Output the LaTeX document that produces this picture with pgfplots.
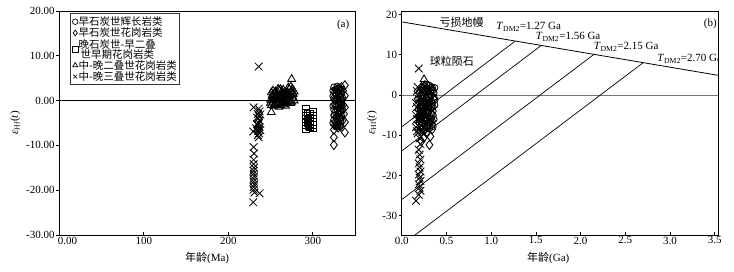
\documentclass[border=0pt]{standalone}
\usepackage{fontspec}
\setmainfont{Liberation Serif}
\newfontfamily\cjk{Noto Sans CJK SC}
\usepackage{pgfplots}
\pgfplotsset{compat=1.18}

\pgfplotstableread{
x y
325 3.0
327 2.5
329 3.2
331 2.8
333 2.2
326 1.8
328 1.2
330 1.9
332 1.0
334 1.5
325 0.5
327 0.0
329 0.6
331 -0.3
333 0.3
326 -0.8
328 -1.3
330 -0.9
332 -1.6
334 -1.0
325 -2.0
327 -2.5
329 -1.9
331 -2.8
333 -2.3
326 -3.2
328 -3.6
330 -3.0
332 -3.9
334 -3.4
325 -4.3
327 -4.8
329 -4.2
331 -5.0
333 -4.6
326 -5.5
328 -5.9
330 -5.4
324 -1.2
324 1.0
335 0.8
335 -2.0
324 2.2
326 0.2
328 2.6
330 0.3
332 2.4
334 -0.2
325 -3.3
327 -1.2
329 -3.5
331 -1.8
333 -3.8
335 -4.5
324 -5.0
329 -5.8
332 -5.6
327 -5.8
331 1.3
333 -0.8
}\circA

\pgfplotstableread{
x y
325 -6.5
325 -8.2
325 -9.9
328 -5.0
330 -6.0
332 -4.0
334 -2.5
336 -1.0
338 3.4
338 1.1
338 -1.5
338 -4.8
338 -7.1
336 2.2
334 3.0
330 2.6
327 1.5
335 0.2
337 -3.0
333 -5.8
}\diamA

\pgfplotstableread{
x y
292 -1.8
292 -2.6
292 -3.4
292 -4.1
292 -4.8
292 -5.5
292 -6.3
293.5 -3.0
293.5 -5.0
297 -3.0
297 -3.8
297 -4.5
297 -5.3
297 -6.0
300 -2.5
300 -3.3
300 -4.0
300 -4.7
300 -5.4
300 -6.2
295 -4.2
295 -5.8
}\squA

\pgfplotstableread{
x y
251 -2.6
275 4.8
250 0.2
252 1.2
254 0.5
256 -0.5
258 1.5
260 2.4
262 0.8
264 -0.3
266 1.0
268 0.3
270 1.8
272 2.6
274 1.2
276 0.5
278 2.0
251 -1.0
253 -0.3
255 1.8
257 0.2
259 -0.8
261 1.0
263 2.0
265 0.0
267 -0.5
269 1.2
271 0.6
273 -0.2
275 2.2
277 1.5
250 -0.5
252 0.0
254 -1.2
256 0.8
258 -0.4
260 0.5
262 -1.0
264 1.5
266 -0.9
268 1.9
270 -0.3
272 0.9
274 -0.6
276 1.4
278 0.0
262 2.5
256 2.0
251 1.8
253 0.9
255 -0.8
257 1.3
259 0.4
261 -0.4
263 0.7
265 1.6
267 0.8
269 -0.2
271 1.4
273 0.4
275 -0.3
277 0.6
253 2.2
259 2.6
265 2.4
271 2.9
274 3.1
268 -1.2
260 -1.4
255 0.3
263 -0.6
270 0.9
276 2.6
}\triA

\pgfplotstableread{
x y
236 7.6
230 -1.5
229.5 -6.9
236 -1.8
237 -2.4
235 -3.0
236.5 -3.5
235.5 -4.0
237 -4.5
236 -5.0
235 -5.5
237 -5.9
236 -6.3
235.5 -6.8
236.5 -7.3
235 -7.7
236 -8.2
234 -5.2
233 -6.2
234 -3.8
238 -6.6
238 -3.1
230 -10.4
230.5 -11.8
230 -13.2
230 -14.2
230.5 -15.0
230 -15.7
230 -16.3
230.5 -16.9
230 -17.5
230 -18.1
230.5 -18.7
230 -19.3
230 -19.9
231 -20.5
229.5 -22.7
237 -20.7
}\crA

\pgfplotstableread{
x y
0.25 2.3
0.28 2.6
0.31 2.4
0.34 2.0
0.26 1.0
0.29 1.3
0.32 0.9
0.35 1.2
0.24 -0.2
0.27 0.1
0.30 -0.4
0.33 0.0
0.36 -0.5
0.25 -1.5
0.28 -1.8
0.31 -1.2
0.34 -2.0
0.26 -3.0
0.29 -2.8
0.32 -3.4
0.35 -3.0
0.24 -4.2
0.27 -4.6
0.30 -4.0
0.33 -4.8
0.25 -5.8
0.28 -6.2
0.31 -5.6
0.34 -6.4
0.26 -7.0
0.29 -7.4
0.32 -7.0
0.37 1.8
0.37 -2.5
0.36 -6.0
0.23 1.5
0.22 -5.5
0.30 0.8
0.27 -2.3
0.33 -1.5
0.29 -5.2
0.35 -7.8
0.31 -8.3
0.26 -8.6
0.21 -1.5
0.23 -3.0
0.25 -4.8
0.27 -6.5
0.29 -8.2
0.31 -6.8
0.33 -5.8
0.35 -4.0
0.37 -1.2
0.28 1.8
0.32 1.8
0.36 0.5
0.24 -9.0
0.22 -8.0
0.30 -2.2
0.26 -1.8
0.34 -7.2
0.20 -7.0
0.19 -3.5
0.18 -1.0
}\circB

\pgfplotstableread{
x y
0.31 -12.4
0.32 -10.3
0.28 -9.5
0.34 -8.5
0.30 -7.0
0.35 -5.0
0.33 -3.0
0.36 -1.0
0.34 1.5
0.30 2.2
0.27 -1.0
0.29 -4.0
0.25 -10.5
0.22 -11.5
}\diamB

\pgfplotstableread{
x y
0.21 -4.0
0.23 -5.0
0.25 -6.0
0.22 -7.0
0.24 -3.5
0.26 -4.5
0.28 -5.5
0.20 -6.0
0.27 -7.5
0.29 -3.0
}\squB

\pgfplotstableread{
x y
0.25 3.9
0.22 2.0
0.24 1.0
0.26 2.5
0.21 0.0
0.23 -1.0
0.25 0.5
0.27 -0.5
0.22 -2.0
0.24 -2.8
0.26 1.5
0.28 0.8
0.20 1.0
}\triB

\pgfplotstableread{
x y
0.19 6.6
0.20 -10.8
0.21 -12.2
0.19 -13.6
0.20 -14.8
0.21 -16.0
0.19 -17.0
0.20 -18.0
0.21 -19.0
0.19 -19.8
0.20 -20.6
0.21 -21.4
0.19 -22.2
0.20 -23.0
0.21 -23.8
0.19 -24.8
0.16 -26.3
0.17 -3.0
0.18 -4.5
0.17 -6.0
0.18 -7.5
0.17 -9.0
0.20 -2.0
0.21 -5.0
0.20 -8.0
0.22 -6.5
0.23 -9.3
0.19 -1.0
0.22 -3.5
0.17 1.0
0.18 2.0
0.16 -2.0
0.16 -5.0
0.16 -8.0
0.18 0.0
0.19 -6.0
0.21 -8.8
0.18 -9.5
0.24 -8.0
0.22 0.5
0.20 -4.0
}\crB

\begin{document}
\begin{tikzpicture}
\useasboundingbox (0,0) rectangle (734pt,271pt);
\pgfplotsset{
  common/.style={
    scale only axis, height=224pt, anchor=south west,
    axis line style={line width=0.9pt},
    tick style={black, line width=0.7pt},
    major tick length=3pt,
    tick pos=left, ytick align=outside, xtick align=inside,
    tick label style={font=\fontsize{11}{12}\selectfont},
    xticklabel style={inner sep=1.5pt},
    yticklabel style={inner sep=1.5pt},
    label style={font=\fontsize{11}{12}\selectfont},
  },
  mc/.style={only marks, mark=o, mark size=3.2pt, mark options={line width=0.85pt, black}},
  md/.style={only marks, mark=diamond, mark size=4.6pt, mark options={line width=0.85pt, black}},
  ms/.style={only marks, mark=square, mark size=3.3pt, mark options={line width=0.85pt, black}},
  mt/.style={only marks, mark=triangle, mark size=4.5pt, mark options={line width=0.85pt, black}},
  mx/.style={only marks, mark=x, mark size=5.4pt, mark options={line width=0.85pt, black}},
}

% ---------- panel (a)
\begin{axis}[common,
  at={(59.3pt,36pt)}, width=295.7pt,
  xmin=0, xmax=350, ymin=-30, ymax=20,
  xtick={0,100,200,300},
  xticklabels={\makebox[0pt][l]{\hspace{-1.5pt}0.00},100,200,300},
  ytick={-30,-20,-10,0,10,20},
  yticklabels={-30.00,-20.00,-10.00,0.00,10.00,20.00},
  xlabel={{\cjk 年龄}(Ma)},
  xlabel style={at={(axis description cs:0.5,-0.104)}, anchor=center},
  ylabel={{\itshape ε}\textsubscript{Hf}(\textit{t})},
  ylabel style={at={(axis description cs:-0.149,0.5)}, anchor=center},
  legend cell align=left,
  legend image code/.code={\draw[#1, mark size=2.8pt, mark options={line width=0.7pt}] plot coordinates {(0pt,0pt)};},
  legend style={at={(0.036,0.99)}, anchor=north west, draw=black!80, line width=1pt,
    inner xsep=2pt, inner ysep=2.5pt, row sep=0.3pt,
    font=\cjk\fontsize{10.5}{10.5}\selectfont,
    nodes={inner sep=0.6pt, text depth=}},
]
\addplot[black, line width=0.6pt, forget plot] coordinates {(0,0) (350,0)};
\addplot[mc] table {\circA};
\addlegendentry{早石炭世辉长岩类}
\addplot[md] table {\diamA};
\addlegendentry{早石炭世花岗岩类}
\addplot[ms] table {\squA};
\addlegendentry{\raisebox{-4.5pt}{\vbox{\baselineskip=10pt\lineskiplimit=-3pt\lineskip=0pt\hbox{晚石炭世-早二叠}\hbox{\hspace{2pt}世早期花岗岩类}}}}
\addplot[mt] table {\triA};
\addlegendentry{中-晚二叠世花岗岩类}
\addplot[mx] table {\crA};
\addlegendentry{中-晚三叠世花岗岩类}
\node[font=\fontsize{11}{12}\selectfont] at (axis cs:336,17.0) {(a)};
\end{axis}

% ---------- panel (b)
\begin{axis}[common,
  at={(401.7pt,36pt)}, width=316.6pt,
  xmin=0, xmax=3.54, ymin=-34.8, ymax=20.9,
  xtick={0,0.5,1,1.5,2,2.5,3,3.5},
  xticklabels={0.0,0.5,1.0,1.5,2.0,2.5,3.0,3.5},
  ytick={-30,-20,-10,0,10,20},
  yticklabels={-30,-20,-10,0,10,20},
  xlabel={{\cjk 年龄}(Ga)},
  xlabel style={at={(axis description cs:0.463,-0.104)}, anchor=center},
  ylabel={{\itshape ε}\textsubscript{Hf}(\textit{t})},
  ylabel style={at={(axis description cs:-0.094,0.5)}, anchor=center},
]
\addplot[black!55, line width=1pt] coordinates {(0,0) (3.54,0)};
\addplot[black, line width=0.8pt] coordinates {(0,18.2) (3.54,4.9)};
\addplot[black, line width=0.7pt] coordinates {(0,-7.9) (1.27,13.42)};
\addplot[black, line width=0.7pt] coordinates {(0,-13.9) (1.56,12.33)};
\addplot[black, line width=0.7pt] coordinates {(0,-26.0) (2.15,10.12)};
\addplot[black, line width=0.7pt] coordinates {(0,-37.3) (2.70,8.05)};
\addplot[mc] table {\circB};
\addplot[md] table {\diamB};
\addplot[ms] table {\squB};
\addplot[mt] table {\triB};
\addplot[mx] table {\crB};
\begin{scope}[every node/.style={font=\fontsize{11}{12}\selectfont, inner sep=0pt}]
\node at (axis cs:0.67,18.2) {\cjk 亏损地幔};
\node at (axis cs:1.42,16.9) {\textit{T}\textsubscript{DM2}=1.27 Ga};
\node at (axis cs:1.86,14.4) {\textit{T}\textsubscript{DM2}=1.56 Ga};
\node at (axis cs:2.51,12.0) {\textit{T}\textsubscript{DM2}=2.15 Ga};
\node at (axis cs:3.22,9.0) {\textit{T}\textsubscript{DM2}=2.70 Ga};
\node at (axis cs:0.56,8.3) {\cjk 球粒陨石};
\node at (axis cs:3.45,17.7) {(b)};
\end{scope}
\end{axis}
\end{tikzpicture}
\end{document}
